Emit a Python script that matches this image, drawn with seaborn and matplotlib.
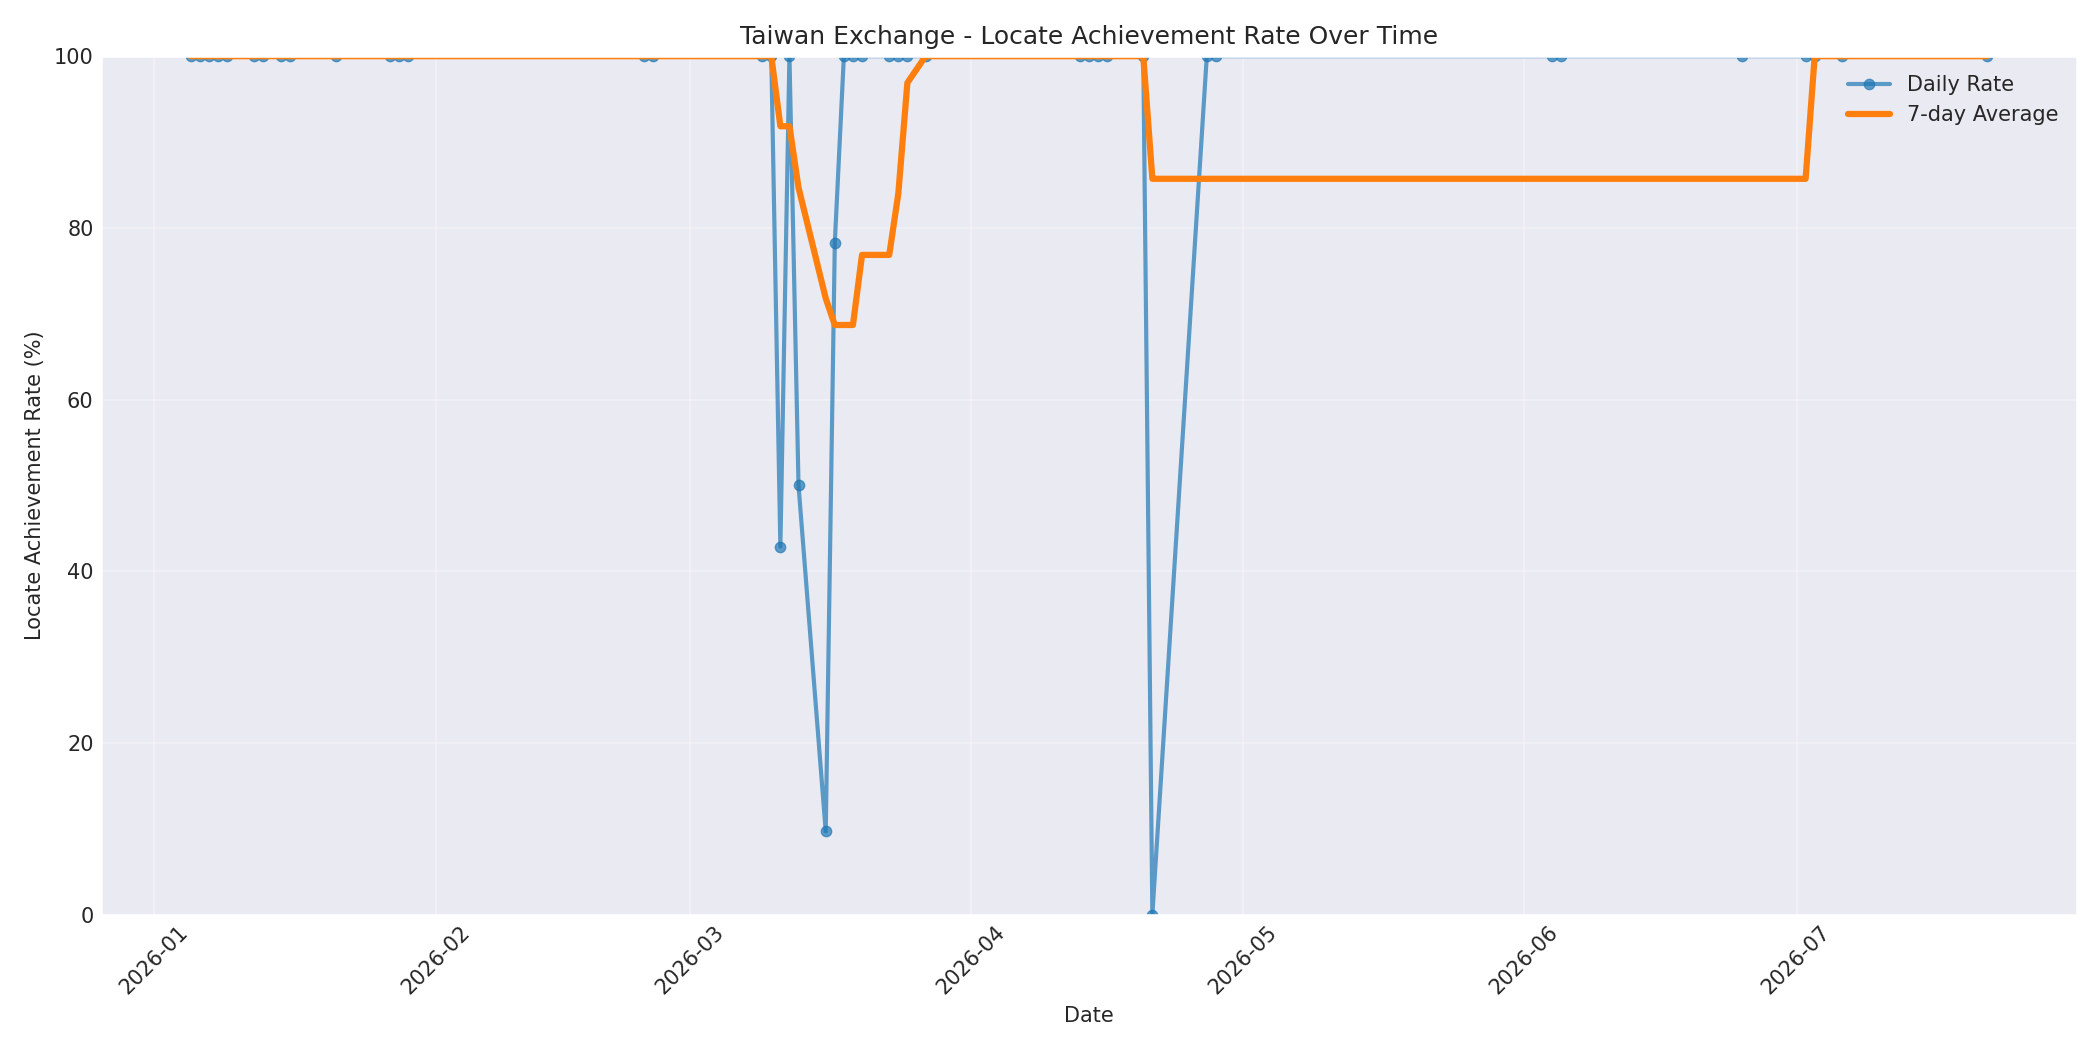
import matplotlib
matplotlib.use("Agg")
import matplotlib.pyplot as plt
import matplotlib.dates as mdates
import seaborn as sns
import pandas as pd

# Data
dates = [
    "2026-01-05", "2026-01-06", "2026-01-07", "2026-01-08", "2026-01-09",
    "2026-01-12", "2026-01-13", "2026-01-15", "2026-01-16", "2026-01-21",
    "2026-01-27", "2026-01-28", "2026-01-29",
    "2026-02-24", "2026-02-25",
    "2026-03-09", "2026-03-10", "2026-03-11", "2026-03-12", "2026-03-13",
    "2026-03-16", "2026-03-17", "2026-03-18", "2026-03-19", "2026-03-20",
    "2026-03-23", "2026-03-24", "2026-03-25", "2026-03-27",
    "2026-04-13", "2026-04-14", "2026-04-15", "2026-04-16", "2026-04-20",
    "2026-04-21", "2026-04-27", "2026-04-28",
    "2026-06-04", "2026-06-05", "2026-06-25",
    "2026-07-02", "2026-07-03", "2026-07-06", "2026-07-22",
]
daily_rate = [
    100, 100, 100, 100, 100,
    100, 100, 100, 100, 100,
    100, 100, 100,
    100, 100,
    100, 100, 42.86, 100, 50,
    9.68, 78.26, 100, 100, 100,
    100, 100, 100, 100,
    100, 100, 100, 100, 100,
    0, 100, 100,
    100, 100, 100,
    100, 100, 100, 100,
]
window = 7

df = pd.DataFrame({"Date": pd.to_datetime(dates), "Rate": daily_rate})
df["Avg"] = df["Rate"].rolling(window=window, min_periods=1).mean()

sns.set_theme(style="darkgrid")
plt.rcParams["font.family"] = ["DejaVu Sans"]

fig, ax = plt.subplots(figsize=(14, 7), dpi=150)

sns.lineplot(data=df, x="Date", y="Rate", ax=ax, marker="o", markersize=5,
             color="#1f77b4", markeredgecolor="#1f77b4", markeredgewidth=0.6,
             linewidth=2, alpha=0.7, label="Daily Rate")
sns.lineplot(data=df, x="Date", y="Avg", ax=ax, color="#ff7f0e",
             linewidth=3, label="7-day Average")

ax.set_ylim(0, 100)
ax.set_title("Taiwan Exchange - Locate Achievement Rate Over Time", fontsize=12)
ax.set_xlabel("Date", fontsize=10)
ax.set_ylabel("Locate Achievement Rate (%)", fontsize=10)
ax.xaxis.set_major_locator(mdates.MonthLocator())
ax.xaxis.set_major_formatter(mdates.DateFormatter("%Y-%m"))
ax.tick_params(axis="both", labelsize=10, length=0, pad=3.5)
plt.setp(ax.get_xticklabels(), rotation=45)
ax.grid(True, alpha=0.3, linewidth=0.8)
ax.legend(loc="upper right", fontsize=10, frameon=False)

fig.subplots_adjust(left=0.048, right=0.989, top=0.9465, bottom=0.129)
fig.savefig("out.png", dpi=150)
